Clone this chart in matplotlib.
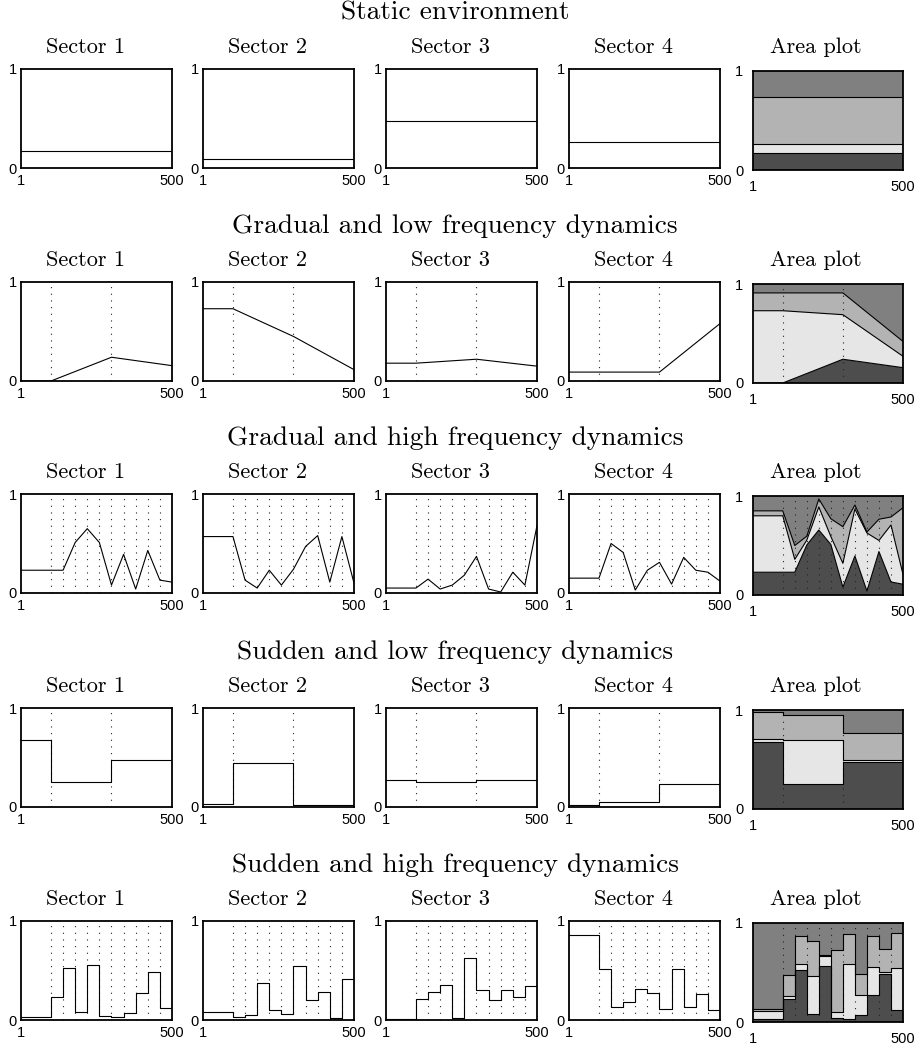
import matplotlib
matplotlib.use('Agg')
import matplotlib.pyplot as plt
from matplotlib import font_manager as fm
import numpy as np

# ---------------- data ----------------
row_titles = ['Static environment',
              'Gradual and low frequency dynamics',
              'Gradual and high frequency dynamics',
              'Sudden and low frequency dynamics',
              'Sudden and high frequency dynamics']
sector_titles = ['Sector 1', 'Sector 2', 'Sector 3', 'Sector 4']
area_title = 'Area plot'
x_ticks = [1, 500]
x_tick_labels = ['1', '500']
y_ticks = [0, 1]
y_tick_labels = ['0', '1']

# static environment (linear)
static_t = [1, 500]
static_s1 = [0.17, 0.17]
static_s2 = [0.095, 0.095]
static_s3 = [0.475, 0.475]
static_s4 = [0.26, 0.26]
static_changes = []

# gradual, low frequency (linear between change points)
gradlow_t = [1, 100, 300, 500]
gradlow_s1 = [0.0, 0.0, 0.24, 0.155]
gradlow_s2 = [0.73, 0.73, 0.45, 0.115]
gradlow_s3 = [0.18, 0.18, 0.22, 0.15]
gradlow_s4 = [0.09, 0.09, 0.09, 0.58]
gradlow_changes = [100, 300]

# gradual, high frequency (linear between change points)
gradhigh_t = [1, 100, 140, 180, 220, 260, 300, 340, 380, 420, 460, 500]
gradhigh_s1 = [0.23, 0.23, 0.23, 0.51, 0.65, 0.51, 0.08, 0.39, 0.04, 0.43, 0.13, 0.11]
gradhigh_s2 = [0.57, 0.57, 0.13, 0.05, 0.23, 0.08, 0.24, 0.47, 0.58, 0.11, 0.57, 0.10]
gradhigh_s3 = [0.05, 0.05, 0.14, 0.04, 0.08, 0.18, 0.37, 0.04, 0.01, 0.21, 0.08, 0.68]
gradhigh_s4 = [0.15, 0.15, 0.50, 0.41, 0.03, 0.23, 0.31, 0.09, 0.36, 0.23, 0.21, 0.12]
gradhigh_changes = [100, 140, 180, 220, 260, 300, 340, 380, 420, 460]

# sudden, low frequency (segment edges and one value per segment)
suddenlow_t = [1, 100, 300, 500]
suddenlow_s1 = [0.68, 0.25, 0.47]
suddenlow_s2 = [0.03, 0.44, 0.02]
suddenlow_s3 = [0.27, 0.25, 0.27]
suddenlow_s4 = [0.02, 0.05, 0.23]
suddenlow_changes = [100, 300]

# sudden, high frequency (segment edges and one value per segment)
suddenhigh_t = [1, 100, 140, 180, 220, 260, 300, 340, 380, 420, 460, 500]
suddenhigh_s1 = [0.03, 0.235, 0.527, 0.08, 0.56, 0.04, 0.034, 0.074, 0.27, 0.48, 0.124]
suddenhigh_s2 = [0.084, 0.027, 0.054, 0.376, 0.097, 0.06, 0.55, 0.20, 0.28, 0.023, 0.416]
suddenhigh_s3 = [0.013, 0.21, 0.285, 0.35, 0.017, 0.624, 0.305, 0.205, 0.30, 0.23, 0.345]
suddenhigh_s4 = [0.862, 0.52, 0.128, 0.18, 0.315, 0.27, 0.107, 0.517, 0.134, 0.258, 0.10]
suddenhigh_changes = [100, 140, 180, 220, 260, 300, 340, 380, 420, 460]

rows = [
    dict(t=static_t, s=[static_s1, static_s2, static_s3, static_s4], step=False, ch=static_changes),
    dict(t=gradlow_t, s=[gradlow_s1, gradlow_s2, gradlow_s3, gradlow_s4], step=False, ch=gradlow_changes),
    dict(t=gradhigh_t, s=[gradhigh_s1, gradhigh_s2, gradhigh_s3, gradhigh_s4], step=False, ch=gradhigh_changes),
    dict(t=suddenlow_t, s=[suddenlow_s1, suddenlow_s2, suddenlow_s3, suddenlow_s4], step=True, ch=suddenlow_changes),
    dict(t=suddenhigh_t, s=[suddenhigh_s1, suddenhigh_s2, suddenhigh_s3, suddenhigh_s4], step=True, ch=suddenhigh_changes),
]

area_colors = ['#4d4d4d', '#e6e6e6', '#b3b3b3', '#808080']

# ---------------- style ----------------
W, H, DPI = 914, 1047, 100
available = {f.name for f in fm.fontManager.ttflist}
tick_family = ['Liberation Sans Narrow'] if 'Liberation Sans Narrow' in available else ['Liberation Sans']
tick_size = 11.5 if tick_family[0] == 'Liberation Sans Narrow' else 10.5
title_family = ['cmr10', 'DejaVu Serif']
plt.rcParams['axes.formatter.use_mathtext'] = True

fig = plt.figure(figsize=(W / DPI, H / DPI), dpi=DPI)

row_tops = [69, 282, 494, 708, 921]
ax_h = 99
sector_lefts = [21, 203, 386, 569]
ax_w = 151
area_left, area_w = 753, 150


def rect(x0, y0, w, h):
    return [x0 / W, 1 - (y0 + h) / H, w / W, h / H]


def style_axes(ax, ypad=3, xpad=4):
    ax.set_xlim(1, 500)
    ax.set_ylim(0, 1)
    ax.set_xticks(x_ticks)
    ax.set_xticklabels(x_tick_labels, family=tick_family, fontsize=tick_size)
    ax.set_yticks(y_ticks)
    ax.set_yticklabels(y_tick_labels, family=tick_family, fontsize=tick_size)
    ax.tick_params(axis='both', length=0)
    ax.tick_params(axis='y', pad=ypad)
    ax.tick_params(axis='x', pad=xpad)
    for sp in ax.spines.values():
        sp.set_linewidth(1.3)
        sp.set_color('black')


def dotted(ax, changes, zorder=1):
    for c in changes:
        ax.axvline(c, color='#222222', lw=0.8, linestyle=(0, (1, 5)), zorder=zorder)


def series_xy(t, v, step):
    t = np.asarray(t, float)
    v = np.asarray(v, float)
    if step:
        v = np.append(v, v[-1])
    return t, v


for r, row in enumerate(rows):
    top = row_tops[r]
    fig.text(455 / W, 1 - (top - 56) / H, row_titles[r],
             family=title_family, fontsize=19.7, ha='center', va='center')
    for k in range(4):
        ax = fig.add_axes(rect(sector_lefts[k], top, ax_w, ax_h))
        style_axes(ax)
        dotted(ax, row['ch'])
        t, v = series_xy(row['t'], row['s'][k], row['step'])
        ax.plot(t, v, color='black', lw=0.8,
                drawstyle='steps-post' if row['step'] else 'default', zorder=3)
        fig.text((sector_lefts[k] + ax_w / 2 - 11) / W, 1 - (top - 22) / H, sector_titles[k],
                 family=title_family, fontsize=16, ha='center', va='center')
    # area plot
    ax = fig.add_axes(rect(area_left, top + 2, area_w, ax_h))
    style_axes(ax, ypad=7, xpad=7)
    vals = [series_xy(row['t'], s, row['step'])[1] for s in row['s']]
    tt = np.asarray(row['t'], float)
    total = np.sum(vals, axis=0)
    shares = [v / total for v in vals]
    cum = np.zeros_like(tt)
    stp = 'post' if row['step'] else None
    for k in range(4):
        new = cum + shares[k]
        ax.fill_between(tt, cum, new, step=stp, facecolor=area_colors[k], edgecolor='none', zorder=1)
        if k < 3:
            ax.plot(tt, new, color='black', lw=0.8,
                    drawstyle='steps-post' if row['step'] else 'default', zorder=3)
        cum = new
    dotted(ax, row['ch'], zorder=2)
    fig.text((area_left + area_w / 2 - 12) / W, 1 - (top - 22) / H, area_title,
             family=title_family, fontsize=16, ha='center', va='center')

fig.savefig('out.png', dpi=DPI)
